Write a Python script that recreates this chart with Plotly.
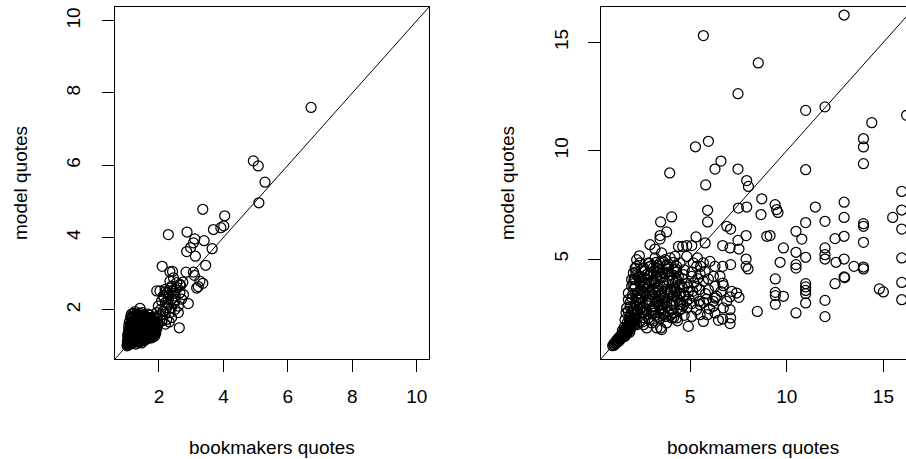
import plotly.graph_objects as go

# ---------------- data ----------------
# Left panel: bookmakers quotes vs model quotes
left_book = [
    6.72, 4.93, 5.08, 5.29, 5.10, 3.36, 4.04, 4.01, 3.92, 3.69, 2.87, 2.29, 3.11, 3.40, 3.07, 2.98, 3.65,
    2.86, 3.13, 3.45, 2.10, 2.34, 2.42, 2.84, 3.07, 3.10, 3.36, 3.27, 3.17, 3.22, 2.65, 2.91, 2.63, 1.41,
    # middle cluster
    1.93, 2.03, 2.19, 2.39, 2.34, 2.55, 2.65, 2.50, 2.29, 2.08, 1.98, 2.13, 2.34, 2.50, 2.60, 2.45, 2.24,
    2.39, 2.32, 2.19, 2.03, 1.93, 2.70, 2.76, 2.26, 2.42, 2.57, 2.13, 2.50, 2.60, 2.24, 2.08, 2.67, 2.45, 2.74,
    2.20, 2.30, 2.40, 2.20, 2.35, 2.45, 2.15, 2.28, 2.52, 2.38, 2.05, 2.10, 1.98, 2.20,
    # dense blob
    1.01, 1.03, 1.05, 1.06, 1.04, 1.08, 1.10, 1.12, 1.07, 1.05, 1.10, 1.14, 1.16, 1.09, 1.13, 1.18, 1.20,
    1.15, 1.22, 1.19, 1.25, 1.28, 1.24, 1.26, 1.30, 1.33, 1.35, 1.32, 1.36, 1.38, 1.40, 1.42, 1.45, 1.47,
    1.50, 1.52, 1.55, 1.58, 1.60, 1.62, 1.65, 1.68, 1.70, 1.72, 1.75, 1.78, 1.80, 1.83, 1.85, 1.88, 1.90,
    1.93, 1.21, 1.12, 1.08, 1.48, 1.66, 1.44, 1.55, 1.18, 1.28, 1.02, 1.11, 1.34, 1.57, 1.74, 1.86, 1.64,
    1.40, 1.26, 1.15, 1.06, 1.95, 1.91,
    1.03, 1.07, 1.09, 1.11, 1.13, 1.17, 1.21, 1.23, 1.27, 1.29, 1.31, 1.37, 1.39, 1.41, 1.43, 1.46, 1.49,
    1.51, 1.53, 1.56, 1.59, 1.61, 1.63, 1.67, 1.69, 1.71, 1.73, 1.76, 1.79, 1.81, 1.84, 1.87, 1.89, 1.92,
    1.14, 1.17, 1.24, 1.29, 1.37, 1.51, 1.61, 1.71, 1.19, 1.33, 1.46, 1.53, 1.67, 1.77, 1.41, 1.22, 1.31,
    1.09, 1.04, 1.06, 1.12, 1.27, 1.44, 1.57, 1.66, 1.81,
    1.02, 1.04, 1.06, 1.08, 1.10, 1.12, 1.14, 1.16, 1.18, 1.20, 1.22, 1.24, 1.26, 1.28, 1.30, 1.32, 1.34,
    1.36, 1.38, 1.40, 1.42, 1.44, 1.46, 1.48, 1.50, 1.52, 1.54, 1.56, 1.58, 1.60, 1.62, 1.64, 1.66, 1.68,
    1.70, 1.72, 1.74, 1.76, 1.78, 1.80, 1.82, 1.84, 1.86, 1.88, 1.90,
    1.03, 1.07, 1.11, 1.15, 1.19, 1.23, 1.27, 1.31, 1.35, 1.39, 1.43, 1.47, 1.51, 1.55, 1.59, 1.63, 1.67,
    1.71, 1.75, 1.79, 1.83, 1.87,
]
left_model = [
    7.60, 6.12, 5.98, 5.53, 4.96, 4.78, 4.60, 4.32, 4.27, 4.22, 4.15, 4.08, 3.96, 3.91, 3.85, 3.72, 3.69,
    3.61, 3.48, 3.23, 3.20, 3.05, 3.06, 3.04, 3.04, 2.95, 2.73, 2.79, 2.60, 2.64, 2.70, 2.17, 1.50, 2.04,
    2.52, 2.52, 2.56, 2.65, 2.79, 2.75, 2.47, 2.38, 2.29, 2.24, 2.10, 1.96, 1.92, 2.01, 2.10, 2.19, 2.06,
    1.78, 1.66, 1.87, 1.83, 1.92, 2.29, 2.42, 2.47, 2.52, 2.61, 2.38, 2.24, 1.92, 1.73, 1.69, 2.67, 2.88, 2.76,
    2.20, 2.40, 2.30, 2.50, 2.60, 2.45, 2.35, 2.15, 2.55, 2.05, 2.00, 1.70, 1.60, 1.60,
    1.00, 1.05, 1.02, 1.10, 1.18, 1.15, 1.05, 1.22, 1.28, 1.35, 1.32, 1.12, 1.40, 1.45, 1.55, 1.62, 1.70,
    1.50, 1.25, 1.08, 1.15, 1.35, 1.48, 1.58, 1.75, 1.85, 1.65, 1.22, 1.10, 1.42, 1.30, 1.55, 1.78, 1.20,
    1.40, 1.62, 1.85, 1.28, 1.50, 1.72, 1.20, 1.38, 1.60, 1.78, 1.30, 1.48, 1.68, 1.25, 1.42, 1.58, 1.35,
    1.48, 1.90, 1.80, 1.65, 1.92, 1.88, 1.12, 1.15, 1.32, 1.05, 1.12, 1.40, 1.50, 1.70, 1.50, 1.75, 1.30,
    1.70, 1.95, 1.88, 1.55, 1.62, 1.80,
    1.08, 1.20, 1.30, 1.16, 1.27, 1.20, 1.38, 1.55, 1.26, 1.44, 1.62, 1.20, 1.55, 1.85, 1.35, 1.62, 1.28,
    1.50, 1.75, 1.38, 1.60, 1.40, 1.58, 1.48, 1.70, 1.35, 1.62, 1.40, 1.58, 1.45, 1.62, 1.50, 1.42, 1.56,
    1.62, 1.75, 1.82, 1.88, 1.80, 1.85, 1.80, 1.85, 1.48, 1.30, 1.08, 1.22, 1.25, 1.22, 1.15, 1.12, 1.12,
    1.12, 1.25, 1.42, 1.48, 1.68, 1.45, 1.52, 1.62, 1.35,
    1.03, 1.15, 1.24, 1.07, 1.36, 1.20, 1.52, 1.30, 1.68, 1.45, 1.18, 1.60, 1.38, 1.78, 1.16, 1.55, 1.42,
    1.72, 1.26, 1.90, 1.48, 1.66, 1.32, 1.80, 1.18, 1.44, 1.70, 1.30, 1.52, 1.76, 1.24, 1.46, 1.68, 1.32,
    1.52, 1.74, 1.28, 1.46, 1.66, 1.30, 1.50, 1.70, 1.36, 1.62, 1.46,
    1.30, 1.46, 1.60, 1.78, 1.55, 1.70, 1.50, 1.82, 1.40, 1.66, 1.25, 1.55, 1.35, 1.65, 1.80, 1.45, 1.78,
    1.22, 1.40, 1.75, 1.55, 1.28,
]

# Right panel: bookmakers quotes vs model quotes
right_book = [
    12.97, 5.69, 8.53, 7.48, 10.98, 11.98, 14.40, 16.20, 13.97, 13.97, 13.97, 5.28, 5.95, 3.95, 6.60, 6.29,
    7.48, 10.98, 5.81, 7.93, 8.02, 15.95, 8.71, 12.97, 11.48, 9.40, 9.48, 9.55, 7.50, 7.93, 5.91, 15.95,
    15.48, 8.67, 4.05, 3.48, 5.91, 10.98, 11.98, 12.97, 13.97, 13.97, 15.95, 6.90, 7.10, 3.79, 3.45, 3.45,
    5.31, 7.90, 8.97, 9.14, 10.48, 10.78, 12.97, 12.50, 13.97, 5.78, 6.69, 7.48, 7.53, 7.07, 9.83, 10.48,
    10.98, 11.98, 11.98, 11.98, 12.97, 12.55, 13.48, 13.97, 13.97, 15.95, 9.66, 10.48, 10.48, 7.90, 7.90,
    8.00, 9.41, 12.97, 13.00, 12.50, 15.95, 14.79, 15.00, 10.98, 10.98, 10.98, 10.98, 9.41, 9.41, 9.83,
    9.41, 10.98, 11.98, 15.95, 8.48, 10.48, 11.98,
    # main cluster
    2.38, 2.93, 3.19, 3.97, 4.22, 4.83, 4.40, 4.62, 4.83, 5.09, 5.38, 5.69, 6.03, 5.55, 5.78, 5.52, 5.95,
    5.69, 6.29, 6.69, 7.10, 6.69, 6.72, 7.16, 7.41, 7.53, 7.07, 6.38, 6.21, 5.86, 5.48, 5.52, 5.09, 4.83,
    4.69, 4.91, 5.14, 4.48, 7.07, 7.10, 6.69, 6.47, 7.07, 5.69, 5.90, 5.09, 4.91, 4.31, 4.14, 3.79, 3.53,
    3.48, 2.76, 3.02, 2.41, 4.48, 4.14, 3.79, 3.45, 3.28, 2.93, 2.59, 2.24, 2.07, 2.10, 1.98, 2.03, 1.90,
    1.81, 1.69, 2.41, 2.76, 3.10, 3.45, 3.79, 2.41, 2.76, 3.10, 2.59, 2.24, 3.28, 3.62, 3.97, 4.14, 4.31,
    4.66, 4.05, 3.71, 3.10, 2.76, 2.16, 2.33, 2.90, 3.28, 3.53, 3.88, 3.36, 2.84, 2.24, 4.48, 4.83, 5.17,
    5.34, 5.09, 4.83, 4.48, 2.59, 3.02, 3.36, 3.71, 2.41, 2.67, 3.19, 3.62, 4.05, 4.31, 1.81, 2.07, 2.41,
    3.02, 2.67, 3.19, 3.62, 4.05, 3.45, 3.88, 4.31, 4.48, 2.84, 2.41, 3.53, 3.71, 3.19, 2.24, 2.16, 1.72,
    1.93, 1.64, 1.90, 2.24, 2.59, 3.28, 1.81, 1.98, 2.24, 5.34, 5.52, 6.29, 6.21, 6.72, 6.90, 5.95, 6.29,
    6.55, 6.21, 5.34, 5.17,
    2.20, 2.50, 2.80, 3.00, 3.30, 3.60, 3.90, 4.20, 4.50, 2.30, 2.60, 2.90, 3.20, 3.50, 3.80, 4.10, 4.40,
    4.70, 2.10, 2.40, 2.70, 3.00, 3.30, 3.60, 2.20, 2.50, 2.90, 3.20, 3.50, 3.80, 4.10, 4.40, 4.70, 2.00,
    2.30, 2.60, 2.90, 3.10, 3.40, 3.70, 4.00, 4.30, 4.60, 4.90, 1.90, 2.15, 2.45, 2.75, 3.05, 3.35, 3.65,
    3.95, 4.25, 2.05, 2.35, 2.65, 2.95, 3.25, 3.55, 3.85, 4.15, 2.20, 2.55, 2.85, 3.15, 3.45, 3.75, 4.05,
    4.35, 4.65, 4.95, 5.20, 5.50, 5.80, 5.10, 5.40, 5.70, 6.00, 6.30, 6.60,
    2.10, 2.30, 2.50, 2.70, 2.90, 3.10, 3.30, 3.50, 3.70, 3.90, 4.10, 4.30, 4.50, 4.70, 2.20, 2.40, 2.60,
    2.80, 3.00, 3.20, 3.40, 3.60, 3.80, 4.00, 4.20, 4.40, 4.60, 2.15, 2.45, 2.75, 3.05, 3.35, 3.65, 3.95,
    4.25, 4.55, 2.35, 2.65, 2.95, 3.25, 3.55, 3.85, 4.15,
    # tail toward (1, 1)
    1.00, 1.05, 1.10, 1.15, 1.20, 1.25, 1.30, 1.35, 1.40, 1.45, 1.50, 1.55, 1.60, 1.65, 1.70, 1.75, 1.80,
    1.85, 1.90, 1.95, 2.00, 1.70, 1.80, 1.90, 2.00, 1.60, 1.75, 1.85, 2.10, 1.95, 2.05, 1.50, 1.40, 2.15,
    1.22, 1.33, 1.48, 1.58, 1.68, 1.88,
    1.08, 1.18, 1.28, 1.38, 1.48, 1.58, 1.68, 1.78, 1.88, 1.98, 2.08, 1.62, 1.72, 1.82, 1.92, 2.02, 2.12,
]
right_model = [
    16.26, 15.31, 14.05, 12.63, 11.86, 12.02, 11.29, 11.63, 10.55, 10.17, 9.40, 10.18, 10.43, 8.97, 9.52,
    9.15, 9.15, 9.12, 8.42, 8.62, 8.35, 8.12, 7.78, 7.62, 7.40, 7.51, 7.28, 7.15, 7.35, 7.40, 7.25, 7.26,
    6.92, 7.05, 6.94, 6.71, 6.71, 6.68, 6.74, 6.92, 6.63, 6.51, 6.38, 6.51, 6.38, 6.25, 6.08, 5.92, 6.02,
    6.08, 6.05, 6.08, 6.28, 5.92, 6.05, 5.94, 5.77, 5.74, 5.62, 5.86, 5.46, 5.51, 5.51, 5.31, 5.08, 5.51,
    5.20, 5.00, 5.00, 4.85, 4.66, 4.63, 4.54, 5.05, 4.85, 4.74, 4.58, 5.00, 4.66, 4.54, 4.08, 4.17, 4.14,
    3.86, 3.92, 3.62, 3.48, 3.86, 3.71, 3.55, 3.40, 3.46, 3.31, 3.28, 2.91, 2.97, 3.09, 3.12, 2.58, 2.51,
    2.34,
    5.15, 5.66, 5.46, 5.05, 5.12, 5.12, 5.58, 5.58, 5.62, 5.62, 5.05, 4.82, 4.89, 4.66, 4.43, 4.31, 4.08,
    3.97, 4.66, 4.66, 4.74, 3.89, 3.77, 3.51, 3.43, 3.23, 3.25, 3.28, 3.05, 3.15, 3.05, 2.89, 2.94, 3.05,
    3.35, 3.49, 3.51, 2.89, 2.66, 2.28, 2.23, 2.17, 2.02, 2.12, 2.43, 2.35, 1.89, 2.28, 2.51, 2.05, 1.74,
    1.82, 1.82, 2.05, 2.12, 3.82, 4.51, 4.74, 4.82, 4.58, 4.66, 4.58, 4.66, 4.35, 4.05, 3.74, 3.35, 2.97,
    2.58, 2.51, 4.20, 3.89, 3.58, 3.28, 2.97, 3.43, 2.97, 2.66, 2.51, 2.82, 4.20, 3.89, 3.58, 3.28, 4.05,
    4.28, 4.28, 4.35, 4.43, 4.28, 3.74, 3.12, 3.28, 3.05, 2.74, 2.58, 2.35, 2.28, 2.43, 2.66, 2.74, 3.28,
    3.74, 4.20, 3.89, 3.43, 3.74, 3.97, 3.74, 3.51, 3.97, 3.43, 3.43, 3.05, 3.05, 3.23, 3.12, 2.58, 2.97,
    3.05, 2.66, 2.51, 2.43, 2.28, 4.51, 4.66, 4.66, 4.82, 4.82, 4.82, 5.28, 4.97, 5.05, 4.97, 4.58, 2.74,
    2.35, 2.20, 2.12, 1.97, 1.97, 1.82, 3.43, 4.05, 4.28, 2.66, 2.43, 2.51, 2.82, 2.74, 3.05, 3.58, 3.74,
    4.20, 4.20, 4.66, 4.82,
    3.00, 3.20, 3.60, 3.90, 4.10, 4.40, 4.00, 3.70, 3.40, 2.60, 2.30, 2.20, 2.40, 2.60, 2.80, 2.90, 3.10,
    3.30, 3.60, 3.90, 4.10, 4.40, 4.70, 4.90, 4.40, 4.50, 4.80, 3.20, 3.40, 3.60, 3.30, 2.60, 2.40, 3.20,
    3.40, 3.70, 3.10, 2.80, 3.00, 3.20, 3.50, 4.40, 4.10, 3.70, 2.80, 2.45, 2.75, 2.95, 3.35, 3.55, 3.75,
    4.25, 4.55, 3.85, 4.15, 4.45, 4.65, 4.85, 4.15, 4.55, 4.85, 2.20, 2.10, 2.45, 2.15, 2.25, 2.35, 2.65,
    2.15, 2.85, 3.15, 3.90, 3.60, 3.40, 4.40, 4.10, 3.00, 2.70, 3.20, 3.50,
    2.70, 3.10, 2.50, 3.80, 3.40, 4.60, 3.70, 4.20, 3.00, 3.30, 4.00, 3.50, 2.90, 4.50, 3.30, 2.90, 3.50,
    4.30, 2.60, 3.90, 2.90, 3.20, 4.70, 2.40, 3.60, 4.20, 3.70, 4.10, 3.60, 2.60, 2.50, 4.40, 2.50, 3.40,
    3.90, 2.70, 3.20, 3.90, 4.30, 4.00, 2.90, 4.40, 2.30,
    1.00, 1.05, 1.12, 1.10, 1.25, 1.20, 1.35, 1.28, 1.45, 1.40, 1.55, 1.50, 1.68, 1.60, 1.80, 1.72, 1.92,
    1.85, 2.05, 1.95, 2.20, 1.55, 1.65, 1.75, 1.90, 1.85, 2.05, 2.25, 2.40, 2.50, 2.10, 1.70, 1.30, 2.00,
    1.15, 1.22, 1.38, 1.45, 1.52, 1.62,
    1.02, 1.14, 1.22, 1.36, 1.46, 1.62, 1.76, 1.86, 2.00, 2.12, 2.30, 1.42, 1.62, 1.78, 1.88, 2.02, 2.22,
]

left_ticks = [2, 4, 6, 8, 10]
right_ticks = [5, 10, 15]
left_range = [0.635, 10.38]
right_xrange = [0.38, 16.17]
right_yrange = [0.385, 16.63]
diag = [0, 20]

titles_x = ["bookmakers quotes", "bookmamers quotes"]
title_y = "model quotes"

# ---------------- figure ----------------
W, H = 906, 459
FONT = dict(family="Liberation Sans, Arial, sans-serif", size=19, color="black")

marker = dict(symbol="circle-open", size=10, color="black", line=dict(width=1.25, color="black"))

fig = go.Figure()
fig.add_trace(go.Scatter(x=left_book, y=left_model, mode="markers", marker=marker,
                         xaxis="x", yaxis="y", showlegend=False))
fig.add_trace(go.Scatter(x=diag, y=diag, mode="lines", line=dict(color="black", width=1),
                         xaxis="x", yaxis="y", showlegend=False))
fig.add_trace(go.Scatter(x=right_book, y=right_model, mode="markers", marker=marker,
                         xaxis="x2", yaxis="y2", showlegend=False))
fig.add_trace(go.Scatter(x=diag, y=diag, mode="lines", line=dict(color="black", width=1),
                         xaxis="x2", yaxis="y2", showlegend=False))

ydom = [1 - 359 / H, 1 - 7 / H]
xdom1 = [115 / W, 429 / W]
xdom2 = [600.7 / W, 1.0]

common = dict(showgrid=False, zeroline=False, showline=True, linecolor="black", linewidth=1,
              ticks="outside", ticklen=12, tickwidth=1, tickcolor="black", tickfont=FONT)

fig.update_layout(
    width=W, height=H,
    margin=dict(l=0, r=0, t=0, b=0),
    paper_bgcolor="white", plot_bgcolor="white",
    font=FONT,
    xaxis=dict(domain=xdom1, range=left_range, tickvals=left_ticks, mirror=True,
               anchor="y", ticklabelstandoff=8, **common),
    yaxis=dict(domain=ydom, range=left_range, tickvals=left_ticks, mirror=True,
               anchor="x", tickangle=-90, ticklabelstandoff=14, **common),
    xaxis2=dict(domain=xdom2, range=right_xrange, tickvals=right_ticks, mirror=True,
                anchor="y2", ticklabelstandoff=8, **common),
    yaxis2=dict(domain=ydom, range=right_yrange, tickvals=right_ticks, mirror=False,
                anchor="x2", tickangle=-90, ticklabelstandoff=12, **common),
    annotations=[
        dict(text=titles_x[0], xref="paper", yref="paper", x=(xdom1[0] + xdom1[1]) / 2,
             y=1 - 447 / H, xanchor="center", yanchor="middle", showarrow=False, font=FONT),
        dict(text=titles_x[1], xref="paper", yref="paper", x=(xdom2[0] + xdom2[1]) / 2,
             y=1 - 447 / H, xanchor="center", yanchor="middle", showarrow=False, font=FONT),
        dict(text=title_y, xref="paper", yref="paper", x=20 / W, y=1 - 183 / H,
             xanchor="center", yanchor="middle", textangle=-90, showarrow=False, font=FONT),
        dict(text=title_y, xref="paper", yref="paper", x=507 / W, y=1 - 183 / H,
             xanchor="center", yanchor="middle", textangle=-90, showarrow=False, font=FONT),
    ],
)

fig.write_html(
    "out.html",
    config={"displayModeBar": False},
    post_script="document.body.style.margin='0';document.body.style.overflow='hidden';",
)
